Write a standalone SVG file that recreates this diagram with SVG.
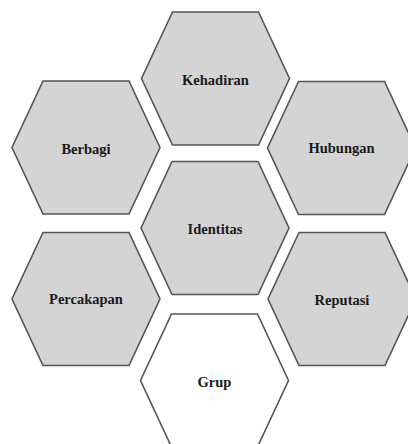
<svg xmlns="http://www.w3.org/2000/svg" width="408" height="444" viewBox="0 0 408 444">
<style>
.hex{fill:#d4d4d4;stroke:#555;stroke-width:1.6;stroke-linejoin:miter}
.hex.white{fill:#fff}
.lbl{font-family:"Liberation Serif","Times New Roman",serif;font-weight:bold;font-size:14.5px;fill:#1a1a1a;text-anchor:middle}
</style>
<defs>
<polygon id="hx" points="-43,-66.5 43,-66.5 74,0 43,66.5 -43,66.5 -74,0"/>
</defs>
<rect width="408" height="444" fill="#fff"/>
<g id="kehadiran" transform="translate(215.5,78.5)"><use href="#hx" class="hex"/><text class="lbl" y="6">Kehadiran</text></g>
<g id="berbagi" transform="translate(86,147.5)"><use href="#hx" class="hex"/><text class="lbl" y="6">Berbagi</text></g>
<g id="hubungan" transform="translate(341.5,148)"><use href="#hx" class="hex"/><text class="lbl" y="5">Hubungan</text></g>
<g id="identitas" transform="translate(215,228)"><use href="#hx" class="hex"/><text class="lbl" y="6">Identitas</text></g>
<g id="percakapan" transform="translate(86,299)"><use href="#hx" class="hex"/><text class="lbl" y="5">Percakapan</text></g>
<g id="reputasi" transform="translate(342,299)"><use href="#hx" class="hex"/><text class="lbl" y="6">Reputasi</text></g>
<g id="grup" transform="translate(214.5,380.5)"><use href="#hx" class="hex white"/><text class="lbl" y="6">Grup</text></g>
<g id="connectors"></g>
</svg>
